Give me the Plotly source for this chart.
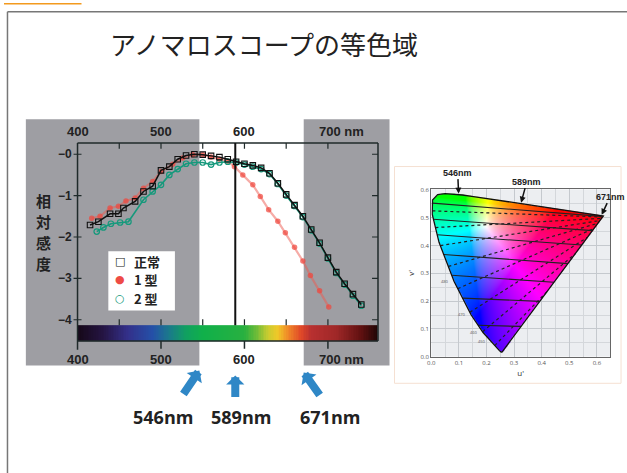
import numpy as np
import plotly.graph_objects as go

W, H = 627, 473

# ---------------- spectral sensitivity curves (log relative sensitivity) ----------------
wl_normal = [415, 425, 439, 449, 455, 469, 479, 490, 500, 510, 520, 530, 540, 550, 560, 570,
             580, 590, 600, 610, 620, 630, 640, 650, 660, 670, 680, 690, 700, 710, 720, 730, 740]
sens_normal = [-1.71, -1.63, -1.44, -1.44, -1.30, -1.14, -0.90, -0.77, -0.39, -0.30, -0.12, -0.03,
               0.00, -0.01, -0.04, -0.07, -0.12, -0.18, -0.23, -0.27, -0.33, -0.46, -0.70, -0.97,
               -1.23, -1.50, -1.82, -2.14, -2.50, -2.85, -3.13, -3.38, -3.63]

wl_type1 = [417, 427, 439, 449, 458, 469, 479, 490, 500, 514, 526, 538, 550, 560, 570, 580, 588,
            598, 610, 619, 629, 640, 649, 660, 670, 679, 690, 701]
sens_type1 = [-1.55, -1.50, -1.30, -1.26, -1.13, -1.06, -0.82, -0.66, -0.42, -0.24, -0.09, -0.01,
              -0.01, -0.07, -0.12, -0.17, -0.30, -0.50, -0.74, -1.02, -1.34, -1.62, -1.90, -2.25,
              -2.58, -2.93, -3.30, -3.69]

wl_type2 = [423, 431, 440, 451, 461, 479, 490, 500, 510, 520, 530, 540, 550, 560, 570, 580, 590,
            600, 610, 620, 630, 640, 650, 660, 670, 680, 690, 700, 710, 720, 730, 740]
sens_type2 = [-1.87, -1.77, -1.68, -1.65, -1.63, -1.10, -0.90, -0.74, -0.50, -0.36, -0.23, -0.20,
              -0.20, -0.25, -0.20, -0.18, -0.20, -0.25, -0.30, -0.36, -0.48, -0.72, -1.00, -1.25,
              -1.52, -1.84, -2.16, -2.52, -2.87, -3.15, -3.42, -3.66]

legend_names = ["正常", "1 型", "2 型"]
legend_symbols = ["□", "●", "○"]
y_title_chars = ["相", "対", "感", "度"]

x_label_ticks = [400, 500, 600, 700]
x_inner_ticks = [450, 500, 550, 600, 650, 700]
y_ticks = [0, -1, -2, -3, -4]
y_tick_labels = ["−0", "−1", "−2", "−3", "−4"]

match_wl = [546, 589, 671]
match_labels = ["546nm", "589nm", "671nm"]

# colour strip along the wavelength axis
spectrum_nm = [400, 430, 460, 490, 510, 530, 550, 600, 615, 628, 640, 652, 668, 680, 710, 740, 760]
spectrum_rgb = ["#150818", "#241442", "#33308a", "#2450a8", "#1a7a8a", "#10a060", "#10b04a",
                "#28b040", "#70bc38", "#c8cc30", "#f0c828", "#f08a28", "#e04828", "#b83030",
                "#a02828", "#601010", "#200606"]

# ---------------- CIE 1976 u'v' spectral locus ----------------
locus_wl = [400, 410, 420, 430, 440, 450, 460, 470, 480, 490, 500, 510, 520, 530, 540, 550,
            560, 570, 580, 590, 600, 610, 620, 630, 640, 650, 660, 680, 700]
locus_u = [0.2557, 0.2545, 0.2522, 0.2461, 0.2347, 0.2161, 0.1877, 0.1441, 0.0828, 0.0282,
           0.0035, 0.0046, 0.0231, 0.0501, 0.0792, 0.1127, 0.1531, 0.2026, 0.2623, 0.3315,
           0.4035, 0.4692, 0.5203, 0.5565, 0.5830, 0.6005, 0.6109, 0.6199, 0.6234]
locus_v = [0.0159, 0.0159, 0.0169, 0.0226, 0.0350, 0.0549, 0.0871, 0.1510, 0.2708, 0.4117,
           0.5131, 0.5638, 0.5837, 0.5868, 0.5856, 0.5821, 0.5766, 0.5694, 0.5604, 0.5501,
           0.5393, 0.5296, 0.5219, 0.5165, 0.5125, 0.5099, 0.5084, 0.5070, 0.5065]

# solid confusion lines (start / end)
solid_u0 = [0.005, 0.008, 0.022, 0.045, 0.074, 0.113, 0.170]
solid_v0 = [0.553, 0.495, 0.439, 0.368, 0.293, 0.211, 0.113]
solid_u1 = [0.615, 0.584, 0.545, 0.495, 0.444, 0.393, 0.325]
solid_v1 = [0.505, 0.454, 0.402, 0.335, 0.268, 0.199, 0.109]

# dashed confusion lines (start / end)
dash_u0 = [0.004, 0.015, 0.033, 0.062, 0.096, 0.140, 0.186, 0.230]
dash_v0 = [0.525, 0.465, 0.400, 0.325, 0.245, 0.160, 0.090, 0.040]
dash_u1 = [0.620, 0.616, 0.611, 0.603, 0.590, 0.566, 0.521, 0.421]
dash_v1 = [0.503, 0.498, 0.490, 0.480, 0.462, 0.430, 0.370, 0.236]

uv_ticks = [0.0, 0.1, 0.2, 0.3, 0.4, 0.5, 0.6]

# ---------------- pixel geometry of the main panel ----------------
PX_PER_NM = 0.84
PX_PER_UNIT = 42.0
X400_PX, Y0_PX = 74.0, 153.5
DOM_L, DOM_R, DOM_T, DOM_B = 10, 395, 100, 440

x_range = [400 - (X400_PX - DOM_L) / PX_PER_NM, 400 + (DOM_R - X400_PX) / PX_PER_NM]
y_range = [-(DOM_B - Y0_PX) / PX_PER_UNIT, (Y0_PX - DOM_T) / PX_PER_UNIT]


def ypx(py):
    return -(py - Y0_PX) / PX_PER_UNIT


def xpx(px):
    return 400 + (px - X400_PX) / PX_PER_NM


X_MIN, X_MAX = 400, 760
FRAME_TOP = ypx(142)
CB_TOP, CB_BOT = ypx(327), ypx(343)
AXIS_BOT = ypx(352)
GRAY_TOP, GRAY_BOT = ypx(118), ypx(368)
GRAY_L, GRAY_R = xpx(22), xpx(388)

GRAY = "#9e9ea3"
INK = "#222222"
BLACK = "#111111"
RED = "#ee4b45"
TEAL = "#16997c"
BLUE = "#2f87c6"

fig = go.Figure()

# colour strip
edges = np.arange(X_MIN, X_MAX + 1, 2)
centers = (edges[:-1] + edges[1:]) / 2
scale = [[(n - X_MIN) / (X_MAX - X_MIN), c] for n, c in zip(spectrum_nm, spectrum_rgb)]
fig.add_trace(go.Heatmap(x=edges, y=[CB_BOT, CB_TOP], z=[centers.tolist()], colorscale=scale,
                         zmin=X_MIN, zmax=X_MAX, showscale=False, hoverinfo="skip"))

fig.add_trace(go.Scatter(x=wl_type1, y=sens_type1, mode="lines+markers",
                         line=dict(color="rgba(238,90,80,0.5)", width=2.2),
                         marker=dict(symbol="circle", size=5.5, color="rgba(240,70,60,0.7)"),
                         showlegend=False))
fig.add_trace(go.Scatter(x=wl_type2, y=sens_type2, mode="lines+markers",
                         line=dict(color=TEAL, width=1.6),
                         marker=dict(symbol="circle-open", size=5.5, color=TEAL, line=dict(width=1.2)),
                         showlegend=False))
fig.add_trace(go.Scatter(x=wl_normal, y=sens_normal, mode="lines+markers",
                         line=dict(color=BLACK, width=1.5),
                         marker=dict(symbol="square-open", size=5.5, color=BLACK, line=dict(width=1.1)),
                         showlegend=False))

shapes = []
# slide decorations
shapes.append(dict(type="rect", xref="paper", yref="paper", x0=0, x1=78 / W, y0=1 - 1.5 / H, y1=1,
                   fillcolor="#f39a1e", line=dict(width=0), layer="below"))
shapes.append(dict(type="line", xref="paper", yref="paper", x0=3.5 / W, x1=1.02, y0=1 - 9 / H,
                   y1=1 - 9 / H, line=dict(color="#777", width=1.5)))
shapes.append(dict(type="line", xref="paper", yref="paper", x0=3.5 / W, x1=3.5 / W, y0=-0.02,
                   y1=1 - 9 / H, line=dict(color="#777", width=1.5)))

# grey bands outside the matching range
shapes.append(dict(type="rect", xref="x", yref="y", x0=GRAY_L, x1=match_wl[0], y0=GRAY_BOT,
                   y1=GRAY_TOP, fillcolor=GRAY, line=dict(width=0), layer="below"))
shapes.append(dict(type="rect", xref="x", yref="y", x0=match_wl[2], x1=GRAY_R, y0=GRAY_BOT,
                   y1=GRAY_TOP, fillcolor=GRAY, line=dict(width=0), layer="below"))

frame = dict(color="#1f2a2a", width=1.5)
shapes += [
    dict(type="line", xref="x", yref="y", x0=X_MIN, x1=X_MAX, y0=FRAME_TOP, y1=FRAME_TOP, line=frame),
    dict(type="line", xref="x", yref="y", x0=X_MIN, x1=X_MIN, y0=AXIS_BOT, y1=FRAME_TOP, line=frame),
    dict(type="line", xref="x", yref="y", x0=X_MAX, x1=X_MAX, y0=CB_BOT, y1=FRAME_TOP, line=frame),
    dict(type="line", xref="x", yref="y", x0=X_MIN, x1=X_MAX, y0=CB_BOT, y1=CB_BOT, line=frame),
]
tick_len_y = 6 / PX_PER_UNIT
tick_len_x = 6 / PX_PER_NM
for t in x_inner_ticks:
    shapes.append(dict(type="line", xref="x", yref="y", x0=t, x1=t, y0=FRAME_TOP,
                       y1=FRAME_TOP - tick_len_y, line=dict(color="#1f2a2a", width=1.2)))
    shapes.append(dict(type="line", xref="x", yref="y", x0=t, x1=t, y0=CB_TOP,
                       y1=CB_TOP + tick_len_y, line=dict(color="#1f2a2a", width=1.2)))
for t in x_label_ticks[1:]:
    shapes.append(dict(type="line", xref="x", yref="y", x0=t, x1=t, y0=CB_BOT,
                       y1=AXIS_BOT + 1 / PX_PER_UNIT, line=dict(color="#1f2a2a", width=1.5)))
for t in y_ticks:
    shapes.append(dict(type="line", xref="x", yref="y", x0=X_MIN - 4 / PX_PER_NM,
                       x1=X_MIN + 4 / PX_PER_NM, y0=t, y1=t, line=dict(color="#1f2a2a", width=1.2)))
    shapes.append(dict(type="line", xref="x", yref="y", x0=X_MAX - tick_len_x, x1=X_MAX, y0=t, y1=t,
                       line=dict(color="#1f2a2a", width=1.2)))
# the 589 nm reference line
shapes.append(dict(type="line", xref="x", yref="y", x0=match_wl[1], x1=match_wl[1], y0=CB_TOP,
                   y1=FRAME_TOP, line=dict(color=BLACK, width=2)))

# legend box
shapes.append(dict(type="rect", xref="x", yref="y", x0=xpx(105), x1=xpx(172), y0=ypx(312),
                   y1=ypx(252), fillcolor="white", line=dict(width=0)))

annotations = []
tick_font = dict(family="Liberation Sans", size=13, color=INK)
for t in x_label_ticks:
    for yy in (ypx(130), ypx(362)):
        if t == 700:
            annotations.append(dict(x=t, y=yy, xref="x", yref="y", text="<b>700 nm</b>",
                                    showarrow=False, xanchor="left", xshift=-11, font=tick_font))
        else:
            annotations.append(dict(x=t, y=yy, xref="x", yref="y", text=f"<b>{t}</b>",
                                    showarrow=False, font=tick_font))
for t, lab in zip(y_ticks, y_tick_labels):
    annotations.append(dict(x=X_MIN, y=t, xref="x", yref="y", text=f"<b>{lab}</b>", showarrow=False,
                            xanchor="right", xshift=-4, font=dict(family="Liberation Sans", size=12,
                                                                  color=INK)))
# vertical axis title, one character per line
for k, ch in enumerate(y_title_chars):
    annotations.append(dict(x=xpx(40), y=ypx(200 + 21.5 * k), xref="x", yref="y", text=f"<b>{ch}</b>",
                            showarrow=False,
                            font=dict(family="Noto Sans CJK JP", size=15, color=INK)))

# legend entries
for k, (sym, name, col) in enumerate(zip(legend_symbols, legend_names, [BLACK, RED, TEAL])):
    yy = ypx(262 + 19 * k)
    annotations.append(dict(x=xpx(117), y=yy, xref="x", yref="y", text=f"<b>{sym}</b>",
                            showarrow=False, font=dict(family="DejaVu Sans", size=11, color=col)))
    annotations.append(dict(x=xpx(129), y=yy, xref="x", yref="y", text=f"<b>{name}</b>",
                            showarrow=False, xanchor="left",
                            font=dict(family="Noto Sans CJK JP", size=13, color=INK)))

# title
annotations.append(dict(x=262 / W, y=1 - 45 / H, xref="paper", yref="paper", yshift=24,
                        text="アノマロスコープの等色域", showarrow=False,
                        font=dict(family="Noto Sans CJK JP", size=26, color=INK)))

# blue arrows and wavelength captions under the panel
arrow_tip_px = [373, 378, 375]
arrow_ax = [-17, 0, 17]
arrow_ay = [25, 23, 24]
caption_shift = [-36, 6, 26]
for wl, lab, tip, ax_, ay_, sh in zip(match_wl, match_labels, arrow_tip_px, arrow_ax, arrow_ay,
                                      caption_shift):
    annotations.append(dict(x=wl, y=ypx(tip), xref="x", yref="y", text="", showarrow=True,
                            ax=ax_, ay=ay_, arrowhead=1, arrowsize=0.38, arrowwidth=8,
                            arrowcolor=BLUE, standoff=0))
    annotations.append(dict(x=wl, y=ypx(420), xref="x", yref="y", text=f"<b>{lab}</b>",
                            showarrow=False, xshift=sh,
                            font=dict(family="Open Sans", size=18, color=INK)))

# ---------------- chromaticity diagram ----------------
def inside_polygon(px, py, poly_x, poly_y):
    inside = np.zeros(px.shape, dtype=bool)
    n = len(poly_x)
    j = n - 1
    for i in range(n):
        xi, yi, xj, yj = poly_x[i], poly_y[i], poly_x[j], poly_y[j]
        crosses = (yi > py) != (yj > py)
        xint = (xj - xi) * (py - yi) / (yj - yi + 1e-12) + xi
        inside ^= crosses & (px < xint)
        j = i
    return inside


U_MAX, V_MAX = 0.648, 0.603
step = 0.0036
us = np.arange(step / 2, U_MAX, step)
vs = np.arange(step / 2, V_MAX, step)
UU, VV = np.meshgrid(us, vs)
den = 6 * UU - 16 * VV + 12
cx, cy = 9 * UU / den, 4 * VV / den
X = cx / cy
Z = (1 - cx - cy) / cy
R = 3.2406 * X - 1.5372 - 0.4986 * Z
G = -0.9689 * X + 1.8758 + 0.0415 * Z
B = 0.0557 * X - 0.2040 + 1.0570 * Z
rgb = np.clip(np.stack([R, G, B], axis=-1), 0, None)
rgb = rgb / rgb.max(axis=-1, keepdims=True)
rgb = np.power(rgb, 1.2)  # a little extra saturation, like printed diagrams
rgb = np.where(rgb <= 0.0031308, 12.92 * rgb, 1.055 * np.power(rgb, 1 / 2.4) - 0.055)
mask = inside_polygon(UU, VV, np.array(locus_u), np.array(locus_v))
img = np.concatenate([np.round(rgb * 255), mask[..., None].astype(float)], axis=-1)

shapes.append(dict(type="rect", xref="x2", yref="y2", x0=0, x1=U_MAX, y0=0, y1=V_MAX,
                   fillcolor="#eceef1", line=dict(width=0), layer="below"))
shapes.append(dict(type="rect", xref="paper", yref="paper", x0=393 / W, x1=621 / W, y0=1 - 386 / H,
                   y1=1 - 166 / H, line=dict(color="#f5e0d2", width=1)))

fig.add_trace(go.Image(z=img.tolist(), x0=float(us[0]), y0=float(vs[0]), dx=step, dy=step,
                       colormodel="rgba", xaxis="x2", yaxis="y2", hoverinfo="skip", zsmooth="fast"))

sx, sy = [], []
for a, b, c, d in zip(solid_u0, solid_v0, solid_u1, solid_v1):
    sx += [a, c, None]
    sy += [b, d, None]
fig.add_trace(go.Scatter(x=sx, y=sy, mode="lines", line=dict(color="#222", width=1.1),
                         xaxis="x2", yaxis="y2", showlegend=False, hoverinfo="skip"))
dx_, dy_ = [], []
for a, b, c, d in zip(dash_u0, dash_v0, dash_u1, dash_v1):
    dx_ += [a, c, None]
    dy_ += [b, d, None]
fig.add_trace(go.Scatter(x=dx_, y=dy_, mode="lines", line=dict(color="#222", width=1.2, dash="3px,3px"),
                         xaxis="x2", yaxis="y2", showlegend=False, hoverinfo="skip"))
fig.add_trace(go.Scatter(x=locus_u + [locus_u[0]], y=locus_v + [locus_v[0]], mode="lines",
                         line=dict(color="#111", width=1.3), xaxis="x2", yaxis="y2",
                         showlegend=False, hoverinfo="skip"))

# small wavelength marks along the blue edge
for wl in [450, 460, 470, 480]:
    i = locus_wl.index(wl)
    annotations.append(dict(x=locus_u[i], y=locus_v[i], xref="x2", yref="y2", text=str(wl),
                            showarrow=False, xanchor="right", xshift=-3,
                            font=dict(size=4, color="#555")))

# arrows to the matching wavelengths on the locus
lab_ax = [-1, 6, 9]
lab_ay = [-22, -22, -19]
for wl, lab, ax_, ay_ in zip(match_wl, match_labels, lab_ax, lab_ay):
    u_ = float(np.interp(wl, locus_wl, locus_u))
    v_ = float(np.interp(wl, locus_wl, locus_v))
    annotations.append(dict(x=u_, y=v_, xref="x2", yref="y2", text=f"<b>{lab}</b>", showarrow=True,
                            ax=ax_, ay=ay_, arrowhead=2, arrowsize=0.8, arrowwidth=1.5,
                            arrowcolor="#111", standoff=1,
                            font=dict(family="Liberation Sans", size=9, color="#222")))

fig.update_layout(
    width=W, height=H, margin=dict(l=0, r=0, t=0, b=0),
    paper_bgcolor="white", plot_bgcolor="rgba(0,0,0,0)",
    showlegend=False,
    xaxis=dict(domain=[DOM_L / W, DOM_R / W], range=x_range, visible=False),
    yaxis=dict(domain=[1 - DOM_B / H, 1 - DOM_T / H], range=y_range, visible=False),
    xaxis2=dict(domain=[430 / W, 610 / W], range=[0, U_MAX], anchor="y2", tickvals=uv_ticks,
                ticktext=[f"{t:.1f}" for t in uv_ticks], tickfont=dict(size=6, color="#555"),
                showline=True, mirror=True, linecolor="#666", linewidth=1, showgrid=True,
                gridcolor="#c5c9ce", gridwidth=0.8, zeroline=False, ticks="",
                minor=dict(dtick=0.05, showgrid=True, gridcolor="#d4d7db"),
                title=dict(text="u'", font=dict(size=8, color="#333"), standoff=2)),
    yaxis2=dict(domain=[1 - 359 / H, 1 - 189 / H], range=[0, V_MAX], anchor="x2", tickvals=uv_ticks,
                ticktext=[f"{t:.1f}" for t in uv_ticks], tickfont=dict(size=6, color="#555"),
                showline=True, mirror=True, linecolor="#666", linewidth=1, showgrid=True,
                gridcolor="#c5c9ce", gridwidth=0.8, zeroline=False, ticks="", scaleanchor=False,
                minor=dict(dtick=0.05, showgrid=True, gridcolor="#d4d7db"),
                title=dict(text="v'", font=dict(size=8, color="#333"), standoff=4)),
    shapes=shapes, annotations=annotations,
)

fig.write_html("out.html")
